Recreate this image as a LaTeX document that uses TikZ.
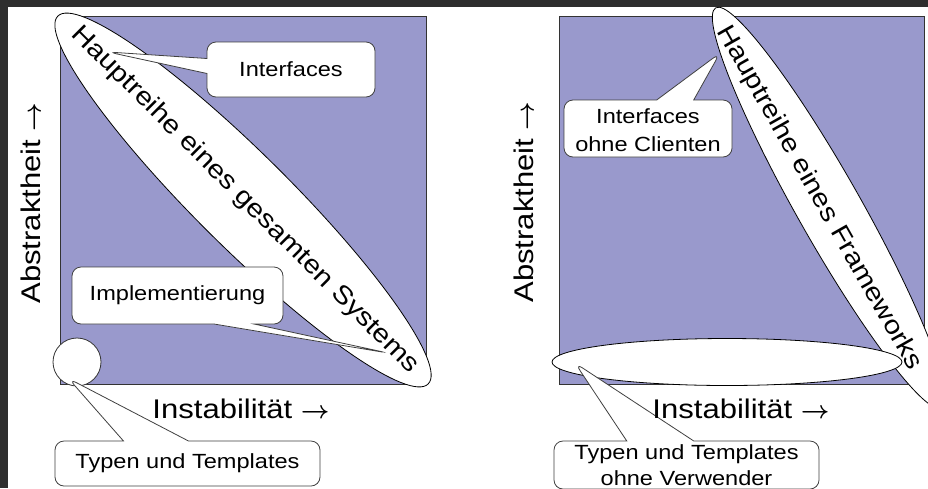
\documentclass[tikz,border=0pt]{standalone}
\usepackage{fontspec}
\setmainfont{Liberation Sans}[FakeStretch=1.15]
\usetikzlibrary{shapes.geometric,shapes.callouts}
\definecolor{plane}{HTML}{9999CC}
\definecolor{frame}{HTML}{2E2E2E}
\newcommand{\achse}{{\boldmath$\rightarrow$}}

\begin{document}
\begin{tikzpicture}[x=1pt,y=-1pt,
    field/.style={fill=plane,draw=black!80,line width=1pt},
    oval/.style={ellipse,draw=black,fill=white,line width=0.8pt,inner sep=0pt},
    dot/.style={circle,draw=black!80,fill=white,line width=0.8pt,inner sep=0pt},
    callbox/.style={rectangle callout,draw=black!75,fill=white,line width=0.8pt,
      rounded corners=9pt,inner sep=0pt,align=center,
      font=\fontsize{20.5}{26}\selectfont},
    axis/.style={font=\fontsize{27}{32}\selectfont,inner sep=0pt},
    seq/.style={font=\fontsize{25.5}{30}\selectfont,inner sep=0pt}]

\useasboundingbox (0,0) rectangle (928,488);
\fill[white] (0,0) rectangle (928,488);
\fill[frame] (0,0) rectangle (928,7);
\fill[frame] (0,0) rectangle (8,488);

% linkes Diagramm
\filldraw[field] (60,16) rectangle (426,384);
\node[oval, minimum width=522pt, minimum height=94pt, rotate=-44.8] (hauptsys) at (243,200) {};
\node[dot, minimum size=48pt] (typpunkt) at (77,362) {};
\node[seq, rotate=-45] (hauptsystxt) at (245,200) {Hauptreihe eines gesamten Systems};
\node[callbox, minimum width=168pt, minimum height=55pt, callout pointer width=15pt,
  callout absolute pointer={(108,52)}] (interf) at (291,69.5) {Interfaces};
\node[callbox, minimum width=211pt, minimum height=57pt, callout pointer width=40pt,
  callout absolute pointer={(388,353)}] (implem) at (177.5,295.5) {Implementierung};
\node[callbox, minimum width=265pt, minimum height=45pt, callout pointer width=65pt,
  callout absolute pointer={(68.5,378.5)}] (typen) at (187.5,463.5) {Typen und Templates};
\node[axis, rotate=90] (abstr1) at (31,203) {Abstraktheit \achse};
\node[axis] (instab1) at (241,409) {Instabilität \achse};

% rechtes Diagramm
\filldraw[field] (559,16) rectangle (924,384);
\node[oval, minimum width=460pt, minimum height=64pt, rotate=-60.5] (hauptfw) at (829,208) {};
\node[callbox, minimum width=168pt, minimum height=57pt, callout pointer width=37pt,
  callout absolute pointer={(720,53)}, font=\fontsize{20.5}{28}\selectfont] (interfnc) at (648,128.5) {\rule{0pt}{19pt}Interfaces\\ohne Clienten};
\node[oval, minimum width=350pt, minimum height=47pt] (typoval) at (727,362) {};
\node[callbox, minimum width=265pt, minimum height=48pt, callout pointer width=67pt,
  callout absolute pointer={(575,363)}] (typnv) at (686.5,465) {Typen und Templates\\ohne Verwender};
\node[seq, rotate=-60.5] (hauptfwtxt) at (819,198) {Hauptreihe eines Frameworks};
\node[axis, rotate=90] (abstr2) at (524,202) {Abstraktheit \achse};
\node[axis] (instab2) at (741,409) {Instabilität \achse};
\end{tikzpicture}
\end{document}
